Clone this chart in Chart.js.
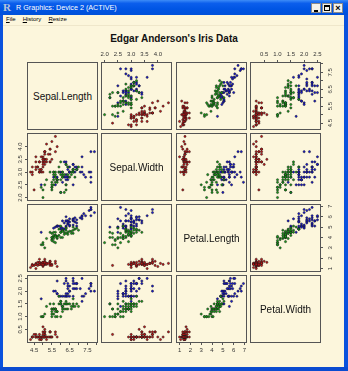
<!DOCTYPE html>
<html><head><meta charset="utf-8">
<script src="https://cdn.jsdelivr.net/npm/chart.js@4"></script>
<style>
html,body{margin:0;padding:0;background:#fff;}
#win{position:relative;width:348px;height:371px;background:#FCF6DC;overflow:hidden;font-family:"Liberation Sans",Arial,sans-serif;}
#titlebar{position:absolute;left:0;top:0;width:348px;height:15px;background:linear-gradient(to bottom,#3D8CF7 0%,#0B5EEC 22%,#0055E4 60%,#0050D9 100%);}
#ricon{position:absolute;left:3px;top:1px;font:bold 11px "Liberation Serif",serif;color:#B8C4D8;}
#ttext{position:absolute;left:16px;top:3px;font-size:7.2px;color:#fff;white-space:nowrap;}
.btn{position:absolute;top:3px;width:10px;height:10px;background:#F4F2EA;border:1px solid #8A8A8A;box-sizing:border-box;}
#lb{position:absolute;left:0;top:15px;width:3px;height:356px;background:#0A52DD;}
#rb{position:absolute;left:344px;top:15px;width:4px;height:356px;background:#0A52DD;}
#bb{position:absolute;left:0;top:367px;width:348px;height:4px;background:#0A4BD0;}
#menu{position:absolute;left:6px;top:16px;font-size:6px;color:#000;white-space:nowrap;}
#menu span{margin-right:7px;}
#menusep{position:absolute;left:3px;top:25px;width:341px;height:1px;background:#EFE7CB;}
#title{position:absolute;left:0;width:348px;top:33px;text-align:center;font-weight:bold;font-size:10px;color:#111;}
.diag{position:absolute;box-sizing:border-box;border:1px solid #555;display:flex;align-items:center;justify-content:center;font-size:10px;color:#111;}
canvas{position:absolute;}
</style>
</head><body>
<div id="win">
  <div id="titlebar">
    <span id="ricon">R</span>
    <span id="ttext">R Graphics: Device 2 (ACTIVE)</span>
    <div class="btn" style="left:311px"><div style="position:absolute;left:2px;top:6px;width:4px;height:2px;background:#000"></div></div>
    <div class="btn" style="left:322px"><div style="position:absolute;left:1px;top:1px;width:6px;height:6px;border:1px solid #000;border-top-width:2px;box-sizing:border-box"></div></div>
    <div class="btn" style="left:333px;font:bold 9px 'Liberation Sans',Arial;line-height:8px;text-align:center;color:#000">×</div>
  </div>
  <div id="lb"></div><div id="rb"></div><div id="bb"></div>
  <div id="menu"><span><u>F</u>ile</span><span><u>H</u>istory</span><span><u>R</u>esize</span></div>
  <div id="menusep"></div>
  <div id="title">Edgar Anderson's Iris Data</div>
</div>
<script>
// ---------------- DATA ----------------
const variables = ['Sepal.Length', 'Sepal.Width', 'Petal.Length', 'Petal.Width'];
const speciesNames = ['setosa', 'versicolor', 'virginica'];
const speciesCounts = [50, 50, 50];
const speciesColors = ['#C41414', '#14A014', '#1414D8'];

const sepalLength = [
5.1,4.9,4.7,4.6,5.0,5.4,4.6,5.0,4.4,4.9,5.4,4.8,4.8,4.3,5.8,5.7,5.4,5.1,5.7,5.1,5.4,5.1,4.6,5.1,4.8,5.0,5.0,5.2,5.2,4.7,4.8,5.4,5.2,5.5,4.9,5.0,5.5,4.9,4.4,5.1,5.0,4.5,4.4,5.0,5.1,4.8,5.1,4.6,5.3,5.0,
7.0,6.4,6.9,5.5,6.5,5.7,6.3,4.9,6.6,5.2,5.0,5.9,6.0,6.1,5.6,6.7,5.6,5.8,6.2,5.6,5.9,6.1,6.3,6.1,6.4,6.6,6.8,6.7,6.0,5.7,5.5,5.5,5.8,6.0,5.4,6.0,6.7,6.3,5.6,5.5,5.5,6.1,5.8,5.0,5.6,5.7,5.7,6.2,5.1,5.7,
6.3,5.8,7.1,6.3,6.5,7.6,4.9,7.3,6.7,7.2,6.5,6.4,6.8,5.7,5.8,6.4,6.5,7.7,7.7,6.0,6.9,5.6,7.7,6.3,6.7,7.2,6.2,6.1,6.4,7.2,7.4,7.9,6.4,6.3,6.1,7.7,6.3,6.4,6.0,6.9,6.7,6.9,5.8,6.8,6.7,6.7,6.3,6.5,6.2,5.9];
const sepalWidth = [
3.5,3.0,3.2,3.1,3.6,3.9,3.4,3.4,2.9,3.1,3.7,3.4,3.0,3.0,4.0,4.4,3.9,3.5,3.8,3.8,3.4,3.7,3.6,3.3,3.4,3.0,3.4,3.5,3.4,3.2,3.1,3.4,4.1,4.2,3.1,3.2,3.5,3.6,3.0,3.4,3.5,2.3,3.2,3.5,3.8,3.0,3.8,3.2,3.7,3.3,
3.2,3.2,3.1,2.3,2.8,2.8,3.3,2.4,2.9,2.7,2.0,3.0,2.2,2.9,2.9,3.1,3.0,2.7,2.2,2.5,3.2,2.8,2.5,2.8,2.9,3.0,2.8,3.0,2.9,2.6,2.4,2.4,2.7,2.7,3.0,3.4,3.1,2.3,3.0,2.5,2.6,3.0,2.6,2.3,2.7,3.0,2.9,2.9,2.5,2.8,
3.3,2.7,3.0,2.9,3.0,3.0,2.5,2.9,2.5,3.6,3.2,2.7,3.0,2.5,2.8,3.2,3.0,3.8,2.6,2.2,3.2,2.8,2.8,2.7,3.3,3.2,2.8,3.0,2.8,3.0,2.8,3.8,2.8,2.8,2.6,3.0,3.4,3.1,3.0,3.1,3.1,3.1,2.7,3.2,3.3,3.0,2.5,3.0,3.4,3.0];
const petalLength = [
1.4,1.4,1.3,1.5,1.4,1.7,1.4,1.5,1.4,1.5,1.5,1.6,1.4,1.1,1.2,1.5,1.3,1.4,1.7,1.5,1.7,1.5,1.0,1.7,1.9,1.6,1.6,1.5,1.4,1.6,1.6,1.5,1.5,1.4,1.5,1.2,1.3,1.4,1.3,1.5,1.3,1.3,1.3,1.6,1.9,1.4,1.6,1.4,1.5,1.4,
4.7,4.5,4.9,4.0,4.6,4.5,4.7,3.3,4.6,3.9,3.5,4.2,4.0,4.7,3.6,4.4,4.5,4.1,4.5,3.9,4.8,4.0,4.9,4.7,4.3,4.4,4.8,5.0,4.5,3.5,3.8,3.7,3.9,5.1,4.5,4.5,4.7,4.4,4.1,4.0,4.4,4.6,4.0,3.3,4.2,4.2,4.2,4.3,3.0,4.1,
6.0,5.1,5.9,5.6,5.8,6.6,4.5,6.3,5.8,6.1,5.1,5.3,5.5,5.0,5.1,5.3,5.5,6.7,6.9,5.0,5.7,4.9,6.7,4.9,5.7,6.0,4.8,4.9,5.6,5.8,6.1,6.4,5.6,5.1,5.6,6.1,5.6,5.5,4.8,5.4,5.6,5.1,5.1,5.9,5.7,5.2,5.0,5.2,5.4,5.1];
const petalWidth = [
0.2,0.2,0.2,0.2,0.2,0.4,0.3,0.2,0.2,0.1,0.2,0.2,0.1,0.1,0.2,0.4,0.4,0.3,0.3,0.3,0.2,0.4,0.2,0.5,0.2,0.2,0.4,0.2,0.2,0.2,0.2,0.4,0.1,0.2,0.2,0.2,0.2,0.1,0.2,0.2,0.3,0.3,0.2,0.6,0.4,0.3,0.2,0.2,0.2,0.2,
1.4,1.5,1.5,1.3,1.5,1.3,1.6,1.0,1.3,1.4,1.0,1.5,1.0,1.4,1.3,1.4,1.5,1.0,1.5,1.1,1.8,1.3,1.5,1.2,1.3,1.4,1.4,1.7,1.5,1.0,1.1,1.0,1.2,1.6,1.5,1.6,1.5,1.3,1.3,1.3,1.2,1.4,1.2,1.0,1.3,1.2,1.3,1.3,1.1,1.3,
2.5,1.9,2.1,1.8,2.2,2.1,1.7,1.8,1.8,2.5,2.0,1.9,2.1,2.0,2.4,2.3,1.8,2.2,2.3,1.5,2.3,2.0,2.0,1.8,2.1,1.8,1.8,1.8,2.1,1.6,1.9,2.0,2.2,1.5,1.4,2.3,2.4,1.8,1.8,2.1,2.4,2.3,1.9,2.3,2.5,2.3,1.9,2.0,2.3,1.8];

// axis ticks and their printed labels ('' = tick without label)
const sepalLengthTicks = [4.5, 5.0, 5.5, 6.0, 6.5, 7.0, 7.5, 8.0];
const sepalLengthTickLabels = ['4.5', '', '5.5', '', '6.5', '', '7.5', ''];
const sepalWidthTicks = [2.0, 2.5, 3.0, 3.5, 4.0];
const sepalWidthTickLabels = ['2.0', '2.5', '3.0', '3.5', '4.0'];
const petalLengthTicks = [1, 2, 3, 4, 5, 6, 7];
const petalLengthTickLabels = ['1', '2', '3', '4', '5', '6', '7'];
const petalWidthTicks = [0.5, 1.0, 1.5, 2.0, 2.5];
const petalWidthTickLabels = ['0.5', '1.0', '1.5', '2.0', '2.5'];

// ---------------- LAYOUT ----------------
const columns = [sepalLength, sepalWidth, petalLength, petalWidth];
const tickSets = [sepalLengthTicks, sepalWidthTicks, petalLengthTicks, petalWidthTicks];
const tickLabelSets = [sepalLengthTickLabels, sepalWidthTickLabels, petalLengthTickLabels, petalWidthTickLabels];
const colLeft = [28, 102, 177, 251];
const rowTop = [63, 134, 205, 276];
const PW = 69, PH = 66, M = 18;
const TICKLEN = 3;
const FONT = '"Liberation Sans", Arial, sans-serif';
const TICKFONT = 6;

const win = document.getElementById('win');

function range(arr) {
  const lo = Math.min(...arr), hi = Math.max(...arr);
  const d = (hi - lo) * 0.04;
  return [lo - d, hi + d];
}
const ranges = columns.map(range);

const measureCtx = document.createElement('canvas').getContext('2d');
measureCtx.font = TICKFONT + 'px ' + FONT;
function widest(labels) {
  return Math.max(...labels.map(s => measureCtx.measureText(s).width));
}

function speciesData(xArr, yArr) {
  const out = [];
  let start = 0;
  speciesCounts.forEach(n => {
    const pts = [];
    for (let i = start; i < start + n; i++) pts.push({x: xArr[i], y: yArr[i]});
    out.push(pts);
    start += n;
  });
  return out;
}

const boxPlugin = {
  id: 'box',
  afterDatasetsDraw(chart) {
    const {ctx, chartArea: a} = chart;
    ctx.save();
    ctx.strokeStyle = '#555';
    ctx.lineWidth = 1;
    ctx.strokeRect(Math.round(a.left) - 0.5, Math.round(a.top) - 0.5,
                   Math.round(a.right - a.left) + 1, Math.round(a.bottom - a.top) + 1);
    ctx.restore();
  }
};

function makePanel(r, c) {
  const cv = document.createElement('canvas');
  cv.width = PW + 2 * M; cv.height = PH + 2 * M;
  cv.style.left = (colLeft[c] - M) + 'px';
  cv.style.top = (rowTop[r] - M) + 'px';
  cv.style.width = (PW + 2 * M) + 'px';
  cv.style.height = (PH + 2 * M) + 'px';
  win.appendChild(cv);

  const xPos = (r === 0 && c % 2 === 1) ? 'top' : (r === 3 && c % 2 === 0) ? 'bottom' : null;
  const yPos = (c === 0 && r % 2 === 1) ? 'left' : (c === 3 && r % 2 === 0) ? 'right' : null;
  const yOffset = yPos === 'left' ? 7.3 : 10;
  const yPad = Math.max(0, yOffset - TICKLEN - widest(tickLabelSets[r].filter(s => s)) / 2);

  const sets = speciesData(columns[c], columns[r]);
  new Chart(cv, {
    type: 'scatter',
    data: {
      datasets: sets.map((pts, k) => ({
        label: speciesNames[k],
        data: pts,
        pointStyle: 'circle',
        pointRadius: 1.1,
        pointBorderWidth: 0.5,
        pointBorderColor: '#1a1a1a',
        pointBackgroundColor: speciesColors[k]
      }))
    },
    options: {
      responsive: false,
      animation: false,
      events: [],
      layout: {padding: {
        left: yPos === 'left' ? 0 : M,
        right: yPos === 'right' ? 0 : M,
        top: xPos === 'top' ? 0 : M,
        bottom: xPos === 'bottom' ? 0 : M
      }},
      plugins: {legend: {display: false}, tooltip: {enabled: false}, title: {display: false}},
      scales: {
        x: {
          type: 'linear',
          position: xPos || 'bottom',
          display: !!xPos,
          min: ranges[c][0], max: ranges[c][1],
          afterBuildTicks: s => { s.ticks = tickSets[c].map(v => ({value: v})); },
          afterFit: s => { if (xPos) s.height = M; },
          ticks: {
            callback: (v, i) => tickLabelSets[c][i],
            font: {size: TICKFONT, family: FONT},
            color: '#333', padding: 2, maxRotation: 0, minRotation: 0, autoSkip: false
          },
          grid: {drawOnChartArea: false, drawTicks: true, tickLength: TICKLEN, color: '#555', lineWidth: 1},
          border: {display: false}
        },
        y: {
          type: 'linear',
          position: yPos || 'left',
          display: !!yPos,
          min: ranges[r][0], max: ranges[r][1],
          afterBuildTicks: s => { s.ticks = tickSets[r].map(v => ({value: v})); },
          afterFit: s => { if (yPos) s.width = M; },
          ticks: {
            callback: (v, i) => tickLabelSets[r][i],
            font: {size: TICKFONT, family: FONT},
            color: '#333', padding: yPad, minRotation: 90, maxRotation: 90,
            crossAlign: 'center', autoSkip: false
          },
          grid: {drawOnChartArea: false, drawTicks: true, tickLength: TICKLEN, color: '#555', lineWidth: 1},
          border: {display: false}
        }
      }
    },
    plugins: [boxPlugin]
  });
}

for (let r = 0; r < 4; r++) {
  for (let c = 0; c < 4; c++) {
    if (r === c) {
      const d = document.createElement('div');
      d.className = 'diag';
      d.style.left = (colLeft[c] - 1) + 'px';
      d.style.top = (rowTop[r] - 1) + 'px';
      d.style.width = (PW + 2) + 'px';
      d.style.height = (PH + 2) + 'px';
      d.textContent = variables[r];
      win.appendChild(d);
    } else {
      makePanel(r, c);
    }
  }
}
</script>
</body></html>
